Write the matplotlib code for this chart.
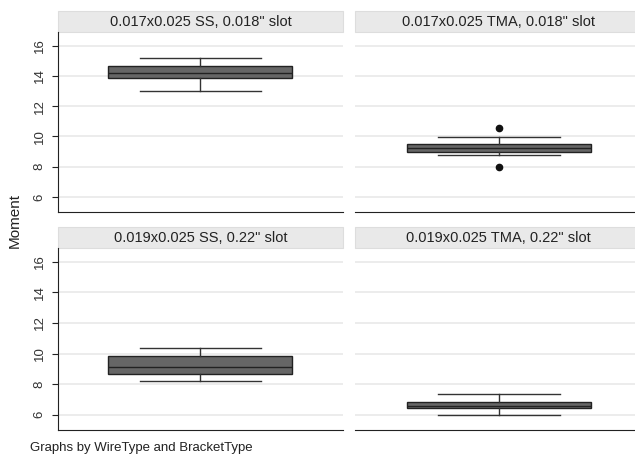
import matplotlib.pyplot as plt
import matplotlib.patches as patches

plt.rcParams['font.family'] = ['Liberation Sans', 'DejaVu Sans']

# panel titles, in reading order
titles = ['0.017x0.025 SS, 0.018" slot', '0.017x0.025 TMA, 0.018" slot',
          '0.019x0.025 SS, 0.22" slot', '0.019x0.025 TMA, 0.22" slot']

# box summary values
q1 = [13.87, 8.95, 8.66, 6.42]
med = [14.2, 9.2, 9.15, 6.6]
q3 = [14.66, 9.47, 9.82, 6.81]
whislo = [13.0, 8.75, 8.18, 5.98]
whishi = [15.18, 9.93, 10.35, 7.36]
fliers = [[], [10.53, 8.0], [], []]

yticks = [6, 8, 10, 12, 14, 16]

fig = plt.figure(figsize=(6.35, 4.57), dpi=100)

# panel rectangles in pixels: left, top, right, bottom
W, H = 635, 457
boxes = [(58, 32, 343, 212), (355, 32, 642, 212),
         (58, 248, 343, 430), (355, 248, 642, 430)]

for i, (x0, y0, x1, y1) in enumerate(boxes):
    ax = fig.add_axes([x0 / W, 1 - y1 / H, (x1 - x0) / W, (y1 - y0) / H])
    pw = x1 - x0
    stats = [dict(med=med[i], q1=q1[i], q3=q3[i], whislo=whislo[i],
                  whishi=whishi[i], fliers=fliers[i])]
    ax.bxp(stats, positions=[0], widths=2 * 184 / pw, capwidths=2 * 122 / pw,
           patch_artist=True,
           boxprops=dict(facecolor='#666666', edgecolor='#222222', linewidth=1.0),
           medianprops=dict(color='#222222', linewidth=1.0),
           whiskerprops=dict(color='#333333', linewidth=1.0),
           capprops=dict(color='#333333', linewidth=1.0),
           flierprops=dict(marker='o', markerfacecolor='#111111',
                           markeredgecolor='#111111', markersize=4.5))
    ax.set_xlim(-1, 1)
    ax.set_ylim(5.0, 16.9)
    ax.set_yticks(yticks)
    ax.yaxis.grid(True, color='#ebebeb', linewidth=1.3)
    ax.set_axisbelow(True)
    ax.set_xticks([])
    for s in ['top', 'right']:
        ax.spines[s].set_visible(False)
    ax.spines['bottom'].set_color('#222222')
    if i % 2 == 0:
        ax.spines['left'].set_color('#222222')
        ax.tick_params(axis='y', length=4, color='#222222', labelsize=9.5,
                       labelcolor='#333333', labelrotation=90, pad=5)
        for lab in ax.get_yticklabels():
            lab.set_va('center')
    else:
        ax.spines['left'].set_visible(False)
        ax.tick_params(axis='y', length=0, labelleft=False)

    # strip header
    hh = 21 / (y1 - y0)
    ax.add_patch(patches.Rectangle((0, 1.0), 1, hh, transform=ax.transAxes,
                                   facecolor='#e9e9e9', edgecolor='#dddddd',
                                   linewidth=0.8, clip_on=False))
    ax.text(0.5, 1.0 + hh / 2, titles[i], transform=ax.transAxes,
            ha='center', va='center', fontsize=10.5, color='#222222')

fig.text(15 / W, 1 - 221 / H, 'Moment', rotation=90, ha='center', va='center',
         fontsize=11, color='#222222')
fig.text(30 / W, 1 - 448 / H, 'Graphs by WireType and BracketType',
         ha='left', va='center', fontsize=9.5, color='#222222')

fig.savefig('out.png', dpi=100)
